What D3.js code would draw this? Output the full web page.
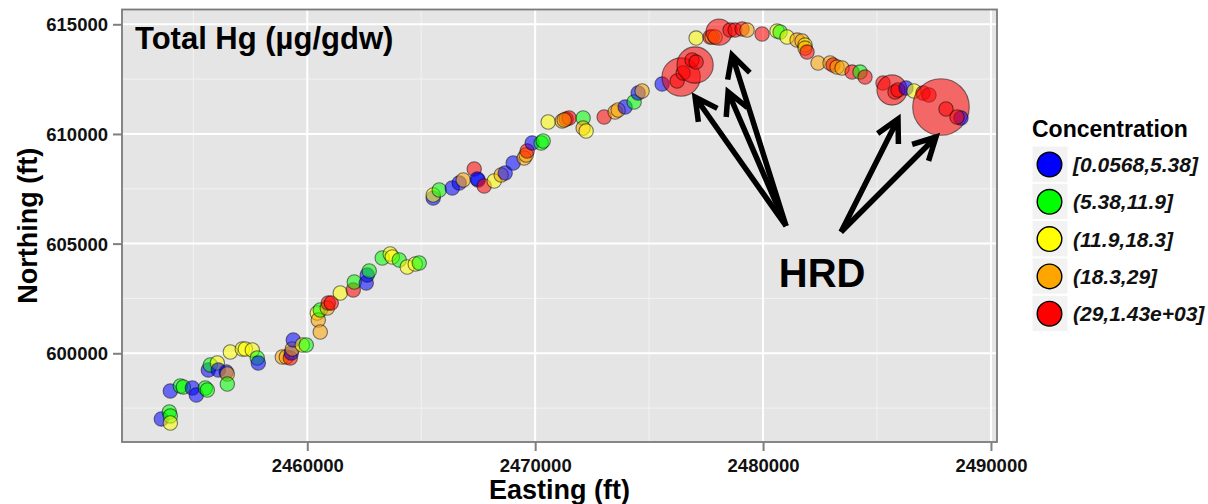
<!DOCTYPE html>
<html>
<head>
<meta charset="utf-8">
<script src="https://cdn.jsdelivr.net/npm/d3@7"></script>
<style>
  html, body { margin: 0; padding: 0; background: #fff; }
  svg { display: block; }
  text { font-family: "Liberation Sans", Arial, sans-serif; }
</style>
</head>
<body>
<svg id="chart" width="1208" height="504"></svg>
<script>
// Sediment sample locations (state plane, ft) and total mercury (µg/gdw)
const easting = [
  2453596, 2453947, 2453991, 2453991, 2453991, 2454430, 2454561, 2454956, 2455132, 2455526,
  2455614, 2455658, 2455746, 2456053, 2456096, 2456447, 2456491, 2456491, 2456623, 2457149,
  2457281, 2457588, 2457807, 2457851, 2458903, 2459079, 2459254, 2459298, 2459342, 2459386,
  2459781, 2459956, 2460439, 2460482, 2460570, 2460570, 2460877, 2460921, 2461053, 2461447,
  2462018, 2462061, 2462588, 2462632, 2462719, 2463290, 2463640, 2463728, 2464035, 2464386,
  2464737, 2464912, 2465526, 2465526, 2465790, 2466360, 2466667, 2466842, 2467325, 2467500,
  2467460, 2467763, 2468202, 2468509, 2468684, 2469035, 2469518, 2469605, 2469649, 2469869,
  2470263, 2470351, 2470570, 2471184, 2471360, 2471491, 2471272, 2472105, 2472105, 2472237,
  2473026, 2473509, 2473640, 2473947, 2474342, 2474518, 2474693, 2475570, 2476404, 2476228,
  2476491, 2477018, 2476886, 2477062, 2477062, 2477676, 2477763, 2477895, 2478070, 2478553,
  2478772, 2479079, 2479298, 2479956, 2480614, 2480746, 2481053, 2481491, 2481711, 2481842,
  2481842, 2481930, 2482412, 2482939, 2483070, 2483246, 2483465, 2483904, 2484255, 2484474,
  2485263, 2485658, 2485790, 2485921, 2486272, 2486623, 2487018, 2487281, 2487807, 2488027,
  2488684, 2488509
];
const northing = [
  597005, 597324, 597142, 596822, 598281, 598509, 598464, 598418, 598099, 598418,
  598327, 599239, 599467, 599558, 599239, 599147, 599056, 598600, 600059, 600196,
  600196, 600150, 599786, 599558, 599831, 599831, 599786, 600014, 600196, 600606,
  600378, 600378, 601837, 601518, 601974, 600971, 602065, 602293, 602293, 602749,
  602886, 603251, 603205, 603570, 603752, 604345, 604527, 604390, 604254, 603934,
  604071, 604117, 607080, 607217, 607445, 607536, 607764, 607901, 608402, 607901,
  607946, 607627, 607855, 608129, 608220, 608676, 608904, 609040, 609223, 609587,
  609587, 609679, 610545, 610591, 610682, 610727, 610636, 610727, 610272, 610135,
  610773, 611001, 611092, 611229, 611457, 611867, 611958, 612277, 612597, 612414,
  612779, 613144, 613372, 613280, 614374, 614420, 614420, 614420, 614648, 614739,
  614739, 614785, 614739, 614557, 614693, 614648, 614420, 614283, 614238, 614055,
  613918, 613736, 613235, 613235, 613144, 613052, 613007, 612824, 612824, 612597,
  612323, 612004, 611913, 612004, 612095, 611958, 611867, 611776, 611229, 611138,
  610727, 610773
];
const totalHg = [
  2.4, 7.8, 9.1, 13.2, 3.1, 8.4, 10.2, 4.2, 3.6, 6.9,
  7.5, 2.8, 9.6, 14.1, 4.7, 0.0568, 21.4, 8.8, 15.3, 16.2,
  12.7, 17.4, 10.8, 3.9, 24.6, 20.3, 41.5, 4.4, 26.1, 1.9,
  13.8, 6.4, 15.9, 22.8, 11.3, 19.7, 27.2, 36.8, 52.3, 12.4,
  33.9, 7.2, 3.3, 2.2, 9.9, 8.1, 16.7, 14.6, 10.4, 17.9,
  13.5, 6.7, 2.6, 15.1, 9.3, 4.1, 3.7, 23.5, 47.2, 1.4,
  0.9, 38.6, 16.4, 25.3, 4.9, 2.9, 21.9, 24.1, 44.7, 3.5,
  7.9, 11.6, 14.9, 26.8, 58.4, 39.1, 28.3, 8.6, 20.8, 17.1,
  35.2, 22.4, 25.7, 4.6, 10.1, 3.2, 19.4, 2.5, 665, 61.3,
  49.8, 597, 72.5, 55.1, 13.9, 42.3, 27.6, 23.8, 315, 37.4,
  64.2, 46.9, 21.1, 53.6, 16.9, 11.2, 15.6, 24.9, 20.6, 12.9,
  26.4, 34.5, 22.1, 25.1, 40.8, 27.9, 19.9, 43.3, 9.4, 50.7,
  66.9, 417, 88.2, 59.6, 4.3, 17.6, 75.4, 48.1, 1430, 62.7,
  3.8, 57.3
];

// Concentration classes
const classBreaks = [5.38, 11.9, 18.3, 29];
const classLabels = ["[0.0568,5.38]", "(5.38,11.9]", "(11.9,18.3]", "(18.3,29]", "(29,1.43e+03]"];
const classColors = ["#0000FF", "#00FF00", "#FFFF00", "#FFA500", "#FF0000"];

// Axis ticks
const eastTicks = [2460000, 2470000, 2480000, 2490000];
const eastMinor = [2455000, 2465000, 2475000, 2485000];
const northTicks = [600000, 605000, 610000, 615000];
const northMinor = [597500, 602500, 607500, 612500];

// "HRD" call-out: label position and arrows (tail -> head), in map feet
const hrdLabel = [2482590, 603020];
const hrdArrows = [
  [[2481009, 605804], [2477018, 611685]],
  [[2481009, 605804], [2478465, 611913]],
  [[2481009, 605804], [2478640, 613599]],
  [[2483421, 605530], [2485921, 610682]],
  [[2483421, 605530], [2487588, 609861]]
];

const svg = d3.select("#chart");
const panel = { left: 122, right: 997, top: 9.5, bottom: 442 };

const x = d3.scaleLinear().domain([2451870, 2490265]).range([panel.left, panel.right]);
const y = d3.scaleLinear().domain([595955, 615675]).range([panel.bottom, panel.top]);
const colour = d3.scaleThreshold().domain(classBreaks).range(classColors);
const radius = d3.scaleSqrt().domain([100, 1430]).range([7.2, 28.3]).clamp(true);

// Panel background
svg.append("rect")
  .attr("x", panel.left).attr("y", panel.top)
  .attr("width", panel.right - panel.left).attr("height", panel.bottom - panel.top)
  .attr("fill", "#E5E5E5");

// Gridlines
const grid = svg.append("g");
grid.selectAll(".vminor").data(eastMinor).join("line")
  .attr("x1", d => x(d)).attr("x2", d => x(d))
  .attr("y1", panel.top).attr("y2", panel.bottom)
  .attr("stroke", "#F2F2F2").attr("stroke-width", 1);
grid.selectAll(".hminor").data(northMinor).join("line")
  .attr("y1", d => y(d)).attr("y2", d => y(d))
  .attr("x1", panel.left).attr("x2", panel.right)
  .attr("stroke", "#F2F2F2").attr("stroke-width", 1);
grid.selectAll(".vmajor").data(eastTicks).join("line")
  .attr("x1", d => x(d)).attr("x2", d => x(d))
  .attr("y1", panel.top).attr("y2", panel.bottom)
  .attr("stroke", "#FFFFFF").attr("stroke-width", 2);
grid.selectAll(".hmajor").data(northTicks).join("line")
  .attr("y1", d => y(d)).attr("y2", d => y(d))
  .attr("x1", panel.left).attr("x2", panel.right)
  .attr("stroke", "#FFFFFF").attr("stroke-width", 2);

// Sample points
const samples = easting.map((e, i) => ({ e, n: northing[i], hg: totalHg[i] }));
svg.append("g").selectAll("circle").data(samples).join("circle")
  .attr("cx", d => x(d.e)).attr("cy", d => y(d.n))
  .attr("r", d => radius(d.hg))
  .attr("fill", d => colour(d.hg)).attr("fill-opacity", 0.55)
  .attr("stroke", "#000").attr("stroke-opacity", 0.5).attr("stroke-width", 1.1);

// Panel border
svg.append("rect")
  .attr("x", panel.left).attr("y", panel.top)
  .attr("width", panel.right - panel.left).attr("height", panel.bottom - panel.top)
  .attr("fill", "none").attr("stroke", "#7A7A7A").attr("stroke-width", 1.8);

// Axes
const xAxis = svg.append("g").attr("transform", `translate(0,${panel.bottom})`)
  .call(d3.axisBottom(x).tickValues(eastTicks).tickFormat(d3.format("d")).tickSize(9).tickPadding(8));
const yAxis = svg.append("g").attr("transform", `translate(${panel.left},0)`)
  .call(d3.axisLeft(y).tickValues(northTicks).tickFormat(d3.format("d")).tickSize(9).tickPadding(5));
[xAxis, yAxis].forEach(g => {
  g.select(".domain").remove();
  g.selectAll(".tick line").attr("stroke", "#7F7F7F").attr("stroke-width", 2);
  g.selectAll(".tick text")
    .attr("font-family", "Liberation Sans, Arial, sans-serif")
    .attr("font-size", 18.5).attr("font-weight", "bold").attr("fill", "#111");
});
yAxis.selectAll(".tick text").attr("dy", "0.36em");

// Axis titles
svg.append("text")
  .attr("x", (panel.left + panel.right) / 2).attr("y", 499)
  .attr("text-anchor", "middle").attr("font-size", 27).attr("font-weight", "bold")
  .text("Easting (ft)");
svg.append("text")
  .attr("transform", `translate(37,${(panel.top + panel.bottom) / 2}) rotate(-90)`)
  .attr("text-anchor", "middle").attr("font-size", 27).attr("font-weight", "bold")
  .text("Northing (ft)");

// Plot title inside the panel
svg.append("text")
  .attr("x", 135).attr("y", 49)
  .attr("font-size", 31).attr("font-weight", "bold")
  .text("Total Hg (µg/gdw)");

// Legend
const legend = svg.append("g").attr("transform", "translate(1032,0)");
legend.append("text").attr("x", 0).attr("y", 137)
  .attr("font-size", 23).attr("font-weight", "bold").text("Concentration");
const keys = legend.selectAll(".key").data(classLabels).join("g")
  .attr("transform", (d, i) => `translate(0,${146 + i * 37.3})`);
keys.append("rect").attr("width", 36).attr("height", 36.3).attr("fill", "#F2F2F2")
  .attr("stroke", "#fff").attr("stroke-width", 1);
keys.append("circle").attr("cx", 17.5).attr("cy", 18.5).attr("r", 12.3)
  .attr("fill", (d, i) => classColors[i]).attr("stroke", "#000").attr("stroke-width", 1.4);
keys.append("text").attr("x", 41).attr("y", 26)
  .attr("font-size", 21).attr("font-weight", "bold").attr("font-style", "italic")
  .attr("fill", "#111").text(d => d);

// HRD call-out arrows
const arrowG = svg.append("g").attr("stroke", "#000").attr("fill", "none")
  .attr("stroke-width", 5.5).attr("stroke-linejoin", "miter");
hrdArrows.forEach(([tail, head]) => {
  const x0 = x(tail[0]), y0 = y(tail[1]), x1 = x(head[0]), y1 = y(head[1]);
  const a = Math.atan2(y1 - y0, x1 - x0);
  const len = 25, spread = Math.PI / 6.5;
  const p = d3.path();
  p.moveTo(x0, y0); p.lineTo(x1, y1);
  p.moveTo(x1 - len * Math.cos(a - spread), y1 - len * Math.sin(a - spread));
  p.lineTo(x1, y1);
  p.lineTo(x1 - len * Math.cos(a + spread), y1 - len * Math.sin(a + spread));
  arrowG.append("path").attr("d", p.toString());
});
svg.append("text")
  .attr("x", x(hrdLabel[0])).attr("y", y(hrdLabel[1]))
  .attr("text-anchor", "middle")
  .attr("font-family", "Open Sans, Liberation Sans, sans-serif")
  .attr("font-size", 40).attr("font-weight", "bold")
  .text("HRD");
</script>
</body>
</html>
